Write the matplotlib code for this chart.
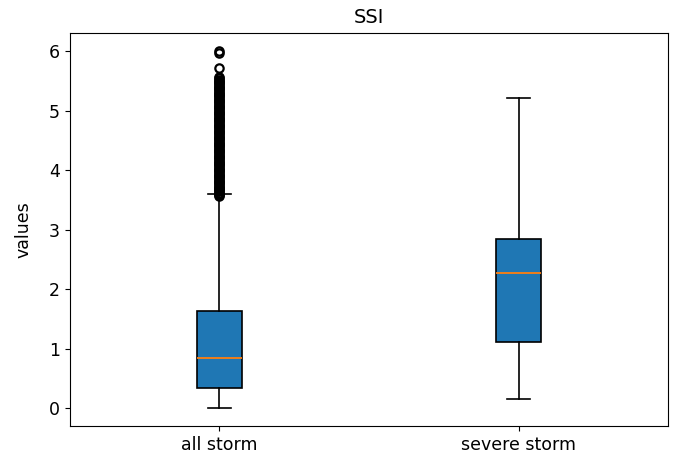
import matplotlib
matplotlib.use("Agg")
import matplotlib.pyplot as plt

labels = ["all storm", "severe storm"]
whislo = [0.0, 0.15]
q1 = [0.34, 1.11]
med = [0.84, 2.27]
q3 = [1.64, 2.85]
whishi = [3.60, 5.21]
fliers_all = [
    3.56, 3.58, 3.60, 3.62, 3.64, 3.66, 3.68, 3.70, 3.72, 3.74,
    3.76, 3.78, 3.80, 3.82, 3.84, 3.86, 3.88, 3.90, 3.92, 3.94,
    3.96, 3.98, 4.00, 4.02, 4.04, 4.06, 4.08, 4.10, 4.12, 4.14,
    4.16, 4.18, 4.20, 4.22, 4.24, 4.26, 4.28, 4.30, 4.32, 4.34,
    4.36, 4.38, 4.40, 4.42, 4.44, 4.46, 4.48, 4.50, 4.52, 4.54,
    4.56, 4.58, 4.60, 4.62, 4.64, 4.66, 4.68, 4.70, 4.72, 4.74,
    4.76, 4.78, 4.80, 4.82, 4.84, 4.86, 4.88, 4.90, 4.92, 4.94,
    4.96, 4.98, 5.00, 5.02, 5.04, 5.06, 5.08, 5.10, 5.12, 5.14,
    5.16, 5.18, 5.20, 5.22, 5.24, 5.26, 5.28, 5.30, 5.32, 5.34,
    5.36, 5.38, 5.40, 5.42, 5.44, 5.46, 5.48, 5.50, 5.52, 5.54,
    5.56, 5.72, 5.96, 6.00]
fliers_severe = []
fliers = [fliers_all, fliers_severe]

stats = []
for i in range(len(labels)):
    stats.append(dict(label=labels[i], whislo=whislo[i], q1=q1[i], med=med[i],
                      q3=q3[i], whishi=whishi[i], fliers=fliers[i]))

fig = plt.figure(figsize=(6.84, 4.61), dpi=100)
ax = fig.add_axes([0.102, 0.076, 0.875, 0.852])
ax.bxp(stats, patch_artist=True,
       flierprops=dict(markeredgewidth=1.6),
       boxprops=dict(linewidth=1.2),
       whiskerprops=dict(linewidth=1.2),
       capprops=dict(linewidth=1.2),
       medianprops=dict(linewidth=1.3))
ax.set_title("SSI", fontsize=14, pad=7)
ax.set_ylabel("values", fontsize=12.5, labelpad=12)
ax.tick_params(labelsize=12.5)
fig.savefig("out.png", dpi=100)
